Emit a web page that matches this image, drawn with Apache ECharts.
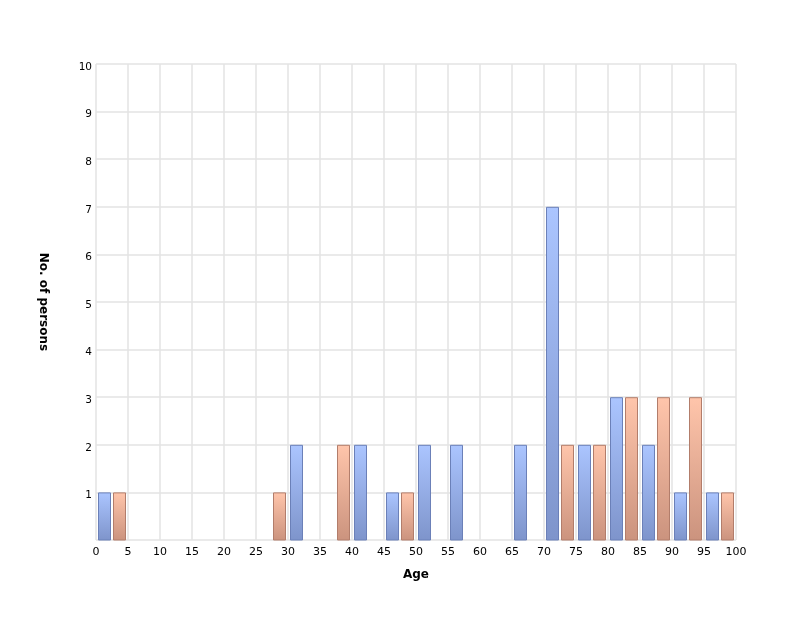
<!DOCTYPE html>
<html>
<head>
<meta charset="utf-8">
<script src="https://cdn.jsdelivr.net/npm/echarts@6/dist/echarts.min.js"></script>
<style>
    html, body { margin: 0; padding: 0; background: #ffffff; }
    #main { width: 800px; height: 628px; }
</style>
</head>
<body>
<div id="main"></div>
<script>
// age bins (start of each 5-year group)
const binStarts = [0, 5, 10, 15, 20, 25, 30, 35, 40, 45, 50, 55, 60, 65, 70, 75, 80, 85, 90, 95];
const blueCounts = [1, 0, 0, 0, 0, 0, 2, 0, 2, 1, 2, 2, 0, 2, 7, 2, 3, 2, 1, 1];
const orangeCounts = [1, 0, 0, 0, 0, 1, 0, 2, 0, 1, 0, 0, 0, 0, 2, 2, 3, 3, 3, 1];
const xTicks = [0, 100, 5];
const yTicks = [0, 10, 1];

const chart = echarts.init(document.getElementById("main"));

function barSeries(name, counts, offsetPx, top, bottom, border) {
    const data = [];
    binStarts.forEach((s, i) => {
        if (counts[i] > 0) data.push([s, counts[i]]);
    });
    return {
        name: name,
        type: "custom",
        data: data,
        renderItem: (params, api) => {
            const p0 = api.coord([api.value(0), 0]);
            const p1 = api.coord([api.value(0), api.value(1)]);
            return {
                type: "rect",
                shape: { x: p0[0] + offsetPx + 0.5, y: p1[1] + 0.5, width: 12, height: p0[1] - p1[1] - 0.5 },
                style: {
                    fill: new echarts.graphic.LinearGradient(0, 0, 0, 1, [
                        { offset: 0, color: top },
                        { offset: 1, color: bottom },
                    ]),
                    stroke: border,
                    lineWidth: 1,
                },
            };
        },
    };
}

const option = {
    backgroundColor: "#ffffff",
    animation: false,
    textStyle: { fontFamily: "DejaVu Sans" },
    grid: { left: 96, right: 64, top: 64, bottom: 88 },
    xAxis: {
        type: "value",
        min: xTicks[0],
        max: xTicks[1],
        interval: xTicks[2],
        name: "Age",
        nameLocation: "middle",
        nameGap: 29,
        nameTextStyle: { fontWeight: "bold", fontSize: 12, color: "#000" },
        axisLine: { show: false },
        axisTick: { show: false },
        axisLabel: { color: "#000", fontSize: 11, margin: 7 },
        splitLine: { show: true, lineStyle: { color: "#e3e3e3", width: 1.5 } },
    },
    yAxis: {
        type: "value",
        min: yTicks[0],
        max: yTicks[1],
        interval: yTicks[2],
        name: "No. of persons",
        nameLocation: "middle",
        nameRotate: -90,
        nameGap: 47,
        nameTextStyle: { fontWeight: "bold", fontSize: 12, color: "#000" },
        axisLine: { show: false },
        axisTick: { show: false },
        axisLabel: { color: "#000", fontSize: 10.5, margin: 4, showMinLabel: false, verticalAlign: "top", lineHeight: 6 },
        splitLine: { show: true, lineStyle: { color: "#e3e3e3", width: 1.5 } },
    },
    series: [
        barSeries("blue", blueCounts, 2, "#abc5ff", "#7e94cb", "#6b80b8"),
        barSeries("orange", orangeCounts, 17, "#ffc5ab", "#cb937e", "#b27d6b"),
    ],
};
chart.setOption(option);
</script>
</body>
</html>
